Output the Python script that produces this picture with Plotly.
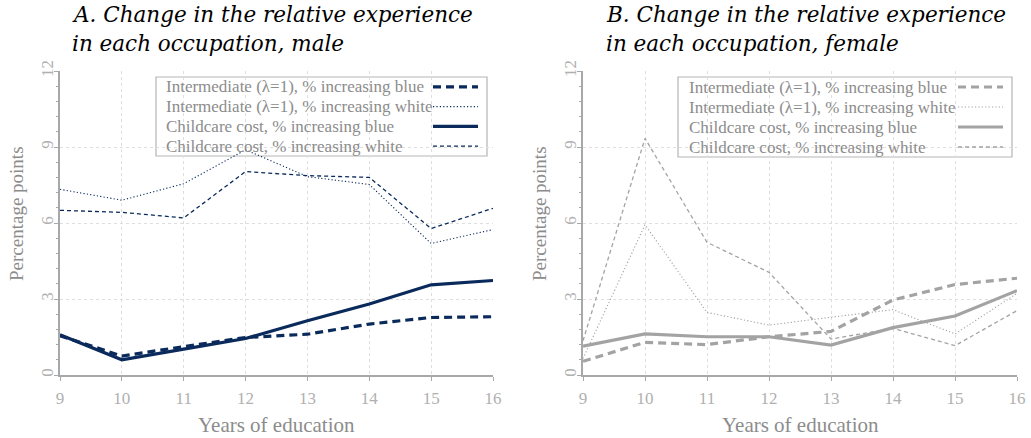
import plotly.graph_objects as go

W, H = 1031, 438

years = [9, 10, 11, 12, 13, 14, 15, 16]
y_ticks = [0, 3, 6, 9, 12]

male_int_blue = [1.55, 0.75, 1.12, 1.48, 1.61, 2.01, 2.27, 2.30]
male_int_white = [7.33, 6.90, 7.55, 8.89, 7.83, 7.52, 5.19, 5.74]
male_cc_blue = [1.59, 0.60, 1.02, 1.44, 2.14, 2.80, 3.56, 3.73]
male_cc_white = [6.50, 6.42, 6.20, 8.03, 7.87, 7.80, 5.78, 6.58]

female_int_blue = [0.54, 1.29, 1.20, 1.51, 1.72, 2.96, 3.57, 3.82]
female_int_white = [0.65, 5.93, 2.47, 1.97, 2.28, 2.58, 1.62, 3.22]
female_cc_blue = [1.14, 1.62, 1.51, 1.51, 1.18, 1.87, 2.33, 3.33]
female_cc_white = [1.35, 9.34, 5.24, 4.05, 1.42, 1.84, 1.16, 2.54]

series_names = [
    "Intermediate (\u03bb=1), % increasing blue",
    "Intermediate (\u03bb=1), % increasing white",
    "Childcare cost, % increasing blue",
    "Childcare cost, % increasing white",
]
titles = [
    ("A. Change in the relative experience", "in each occupation, male"),
    ("B. Change in the relative experience", "in each occupation, female"),
]

NAVY = "#0a2a5c"
GRAY = "#a3a3a3"
styles = [
    dict(width=3.2, dash="8px,5px"),
    dict(width=1.1, dash="1.2px,2.2px"),
    dict(width=3.2, dash="solid"),
    dict(width=1.3, dash="4px,3px"),
]

SERIF = "Liberation Serif"
TICK_C = "#b0b0b0"
LABEL_C = "#8c8c8c"
AXIS_C = "#a8a8a8"
GRID_C = "#dedede"


def px_x(p):
    return p / W


def px_y(p):
    return 1 - p / H


panels = [
    dict(data=[male_int_blue, male_int_white, male_cc_blue, male_cc_white],
         color=NAVY, x0=60, x1=493, xa="x", ya="y",
         leg=(156, 487, 77, 156, 164, 433, 478), tx=70),
    dict(data=[female_int_blue, female_int_white, female_cc_blue, female_cc_white],
         color=GRAY, x0=583, x1=1017, xa="x2", ya="y2",
         leg=(678, 1012, 77, 157, 687, 958, 1003), tx=604),
]
PY0, PY1 = 71, 375

fig = go.Figure()
shapes = []
annotations = []

for i, p in enumerate(panels):
    for s, vals, name in zip(styles, p["data"], series_names):
        fig.add_trace(go.Scatter(
            x=years, y=vals, mode="lines", name=name, showlegend=False,
            xaxis=p["xa"], yaxis=p["ya"], hoverinfo="skip",
            line=dict(color=p["color"], width=s["width"], dash=s["dash"]),
        ))
    axsuffix = "" if i == 0 else "2"
    fig.update_layout(**{
        "xaxis" + axsuffix: dict(
            domain=[px_x(p["x0"]), px_x(p["x1"])], range=[9, 16],
            anchor="y" + axsuffix, tickmode="array", tickvals=years,
            ticktext=[str(v) for v in years],
            showgrid=True, gridcolor=GRID_C, griddash="3px,3px", gridwidth=1,
            showline=True, linecolor=AXIS_C, linewidth=1.6,
            ticks="outside", ticklen=4, tickcolor=AXIS_C, tickwidth=1,
            tickfont=dict(family=SERIF, size=17, color=TICK_C),
            ticklabelstandoff=3, zeroline=False, automargin=False,
        ),
        "yaxis" + axsuffix: dict(
            domain=[px_y(PY1), px_y(PY0)], range=[0, 12],
            anchor="x" + axsuffix, tickmode="array", tickvals=y_ticks,
            ticktext=[str(v) for v in y_ticks],
            showgrid=True, gridcolor=GRID_C, griddash="3px,3px", gridwidth=1,
            showline=True, linecolor=AXIS_C, linewidth=1.6,
            ticks="outside", ticklen=4, tickcolor=AXIS_C, tickwidth=1,
            minor=dict(tick0=0, dtick=0.6, ticks="outside", ticklen=2.5,
                       tickcolor=AXIS_C, showgrid=False),
            tickangle=-90, ticklabelstandoff=-6,
            tickfont=dict(family=SERIF, size=17, color=TICK_C),
            zeroline=False, automargin=False,
        ),
    })
    # custom legend (symbol to the right of text)
    bx0, bx1, by0, by1, tx, lx0, lx1 = p["leg"]
    shapes.append(dict(type="rect", xref="paper", yref="paper",
                       x0=px_x(bx0), x1=px_x(bx1), y0=px_y(by1), y1=px_y(by0),
                       line=dict(color="#b5b5b5", width=1.2), fillcolor="white",
                       layer="between"))
    row_h = (by1 - by0) / 4
    for k, (s, name) in enumerate(zip(styles, series_names)):
        cy = by0 + row_h * (k + 0.5)
        annotations.append(dict(
            text=name, xref="paper", yref="paper", x=px_x(tx), y=px_y(cy),
            xanchor="left", yanchor="middle", showarrow=False,
            font=dict(family=SERIF, size=17, color=LABEL_C)))
        shapes.append(dict(type="line", xref="paper", yref="paper",
                           x0=px_x(lx0), x1=px_x(lx1), y0=px_y(cy), y1=px_y(cy),
                           line=dict(color=p["color"], width=s["width"], dash=s["dash"])))
    # titles
    for k, line in enumerate(titles[i]):
        annotations.append(dict(
            text="<i>" + line + "</i>", xref="paper", yref="paper",
            x=px_x(p["tx"]), y=px_y(14 + 29 * k), xanchor="left", yanchor="middle",
            showarrow=False, font=dict(family="DejaVu Serif", size=21.5, color="black")))
    # axis titles
    annotations.append(dict(
        text="Years of education", xref="paper", yref="paper",
        x=px_x((p["x0"] + p["x1"]) / 2), y=px_y(425), xanchor="center", yanchor="middle",
        showarrow=False, font=dict(family=SERIF, size=21, color=LABEL_C)))
    annotations.append(dict(
        text="Percentage points", xref="paper", yref="paper",
        x=px_x(p["x0"] - 44), y=px_y(214), xanchor="center", yanchor="middle",
        textangle=-90, showarrow=False, font=dict(family=SERIF, size=19, color=LABEL_C)))

fig.update_layout(
    width=W, height=H, margin=dict(l=0, r=0, t=0, b=0),
    paper_bgcolor="white", plot_bgcolor="white",
    shapes=shapes, annotations=annotations, showlegend=False,
)

fig.write_html("out.html", config={"displayModeBar": False},
               post_script="document.body.style.margin='0px';document.body.style.overflow='hidden';")
